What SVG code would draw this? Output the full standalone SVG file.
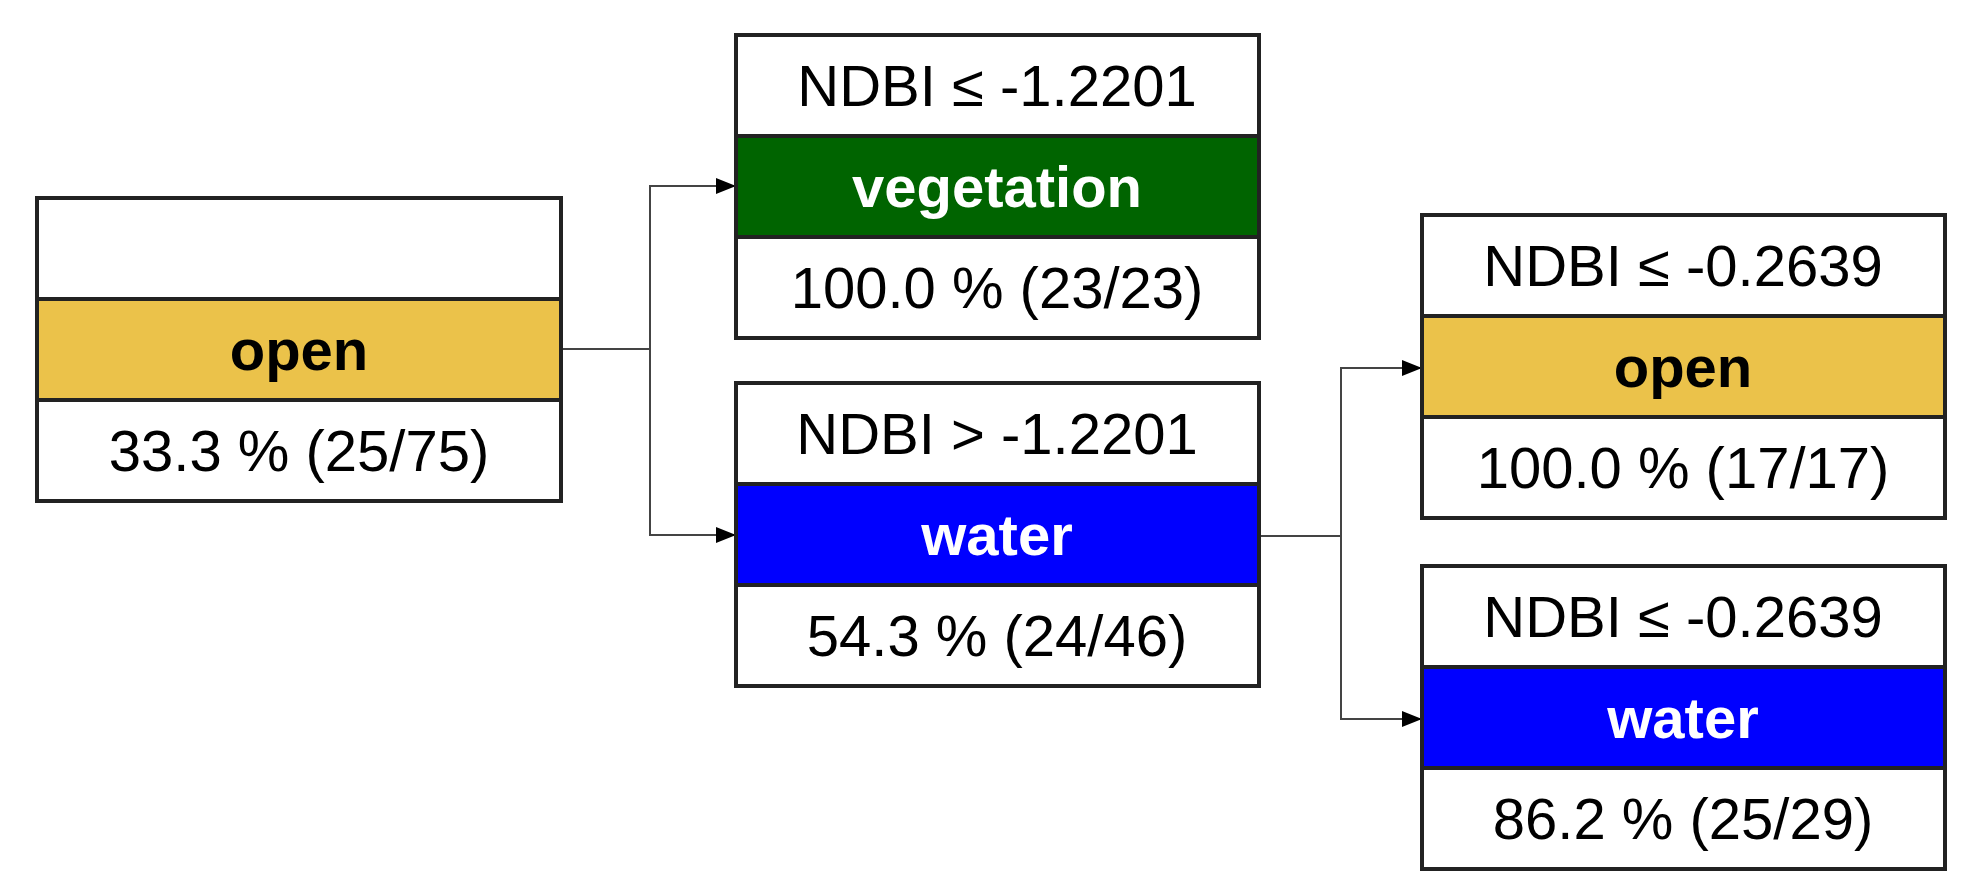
<svg xmlns="http://www.w3.org/2000/svg" width="1974" height="895" viewBox="0 0 1974 895">
<style>
.b{stroke:#222;stroke-width:4}
.w{fill:#fff}
.o{fill:#EBC24A}
.g{fill:#006400}
.bl{fill:#0000FF}
text{font-family:"Liberation Sans",Arial,sans-serif;font-size:58px;text-anchor:middle;fill:#000}
.lb{font-weight:bold}
.lw{font-weight:bold;fill:#fff}
.c{fill:none;stroke:#444;stroke-width:2}
</style>
<defs><marker id="a" markerWidth="10" markerHeight="10" refX="10" refY="5" orient="auto" markerUnits="userSpaceOnUse"><path d="M0,0L10,5L0,10z" transform="scale(1)" fill="#000"/></marker>
<marker id="ar" viewBox="0 0 20 16" markerWidth="20" markerHeight="16" refX="20" refY="8" orient="auto" markerUnits="userSpaceOnUse"><path d="M0,0L20,8L0,16z" fill="#000"/></marker></defs>
<g id="connectors">
<path class="c" d="M561,349H650V186H736" marker-end="url(#ar)"/>
<path class="c" d="M650,349V535H736" marker-end="url(#ar)"/>
<path class="c" d="M1259,536H1341V368H1422" marker-end="url(#ar)"/>
<path class="c" d="M1341,536V719H1422" marker-end="url(#ar)"/>
</g>
<g id="root">
<rect class="b w" x="37" y="198" width="524" height="101"/>
<rect class="b o" x="37" y="299" width="524" height="101"/>
<rect class="b w" x="37" y="400" width="524" height="101"/>
<text class="lb" x="299" y="370">open</text>
<text x="299" y="471">33.3 % (25/75)</text>
</g>
<g id="n2">
<rect class="b w" x="736" y="35" width="523" height="101"/>
<rect class="b g" x="736" y="136" width="523" height="101"/>
<rect class="b w" x="736" y="237" width="523" height="101"/>
<text x="997" y="106">NDBI ≤ -1.2201</text>
<text class="lw" x="997" y="207">vegetation</text>
<text x="997" y="308">100.0 % (23/23)</text>
</g>
<g id="n3">
<rect class="b w" x="736" y="383" width="523" height="101"/>
<rect class="b bl" x="736" y="484" width="523" height="101"/>
<rect class="b w" x="736" y="585" width="523" height="101"/>
<text x="997" y="454">NDBI &gt; -1.2201</text>
<text class="lw" x="997" y="555">water</text>
<text x="997" y="656">54.3 % (24/46)</text>
</g>
<g id="n4">
<rect class="b w" x="1422" y="215" width="523" height="101"/>
<rect class="b o" x="1422" y="316" width="523" height="101"/>
<rect class="b w" x="1422" y="417" width="523" height="101"/>
<text x="1683" y="286">NDBI ≤ -0.2639</text>
<text class="lb" x="1683" y="387">open</text>
<text x="1683" y="488">100.0 % (17/17)</text>
</g>
<g id="n5">
<rect class="b w" x="1422" y="566" width="523" height="101"/>
<rect class="b bl" x="1422" y="667" width="523" height="101"/>
<rect class="b w" x="1422" y="768" width="523" height="101"/>
<text x="1683" y="637">NDBI ≤ -0.2639</text>
<text class="lw" x="1683" y="738">water</text>
<text x="1683" y="839">86.2 % (25/29)</text>
</g>
</svg>
